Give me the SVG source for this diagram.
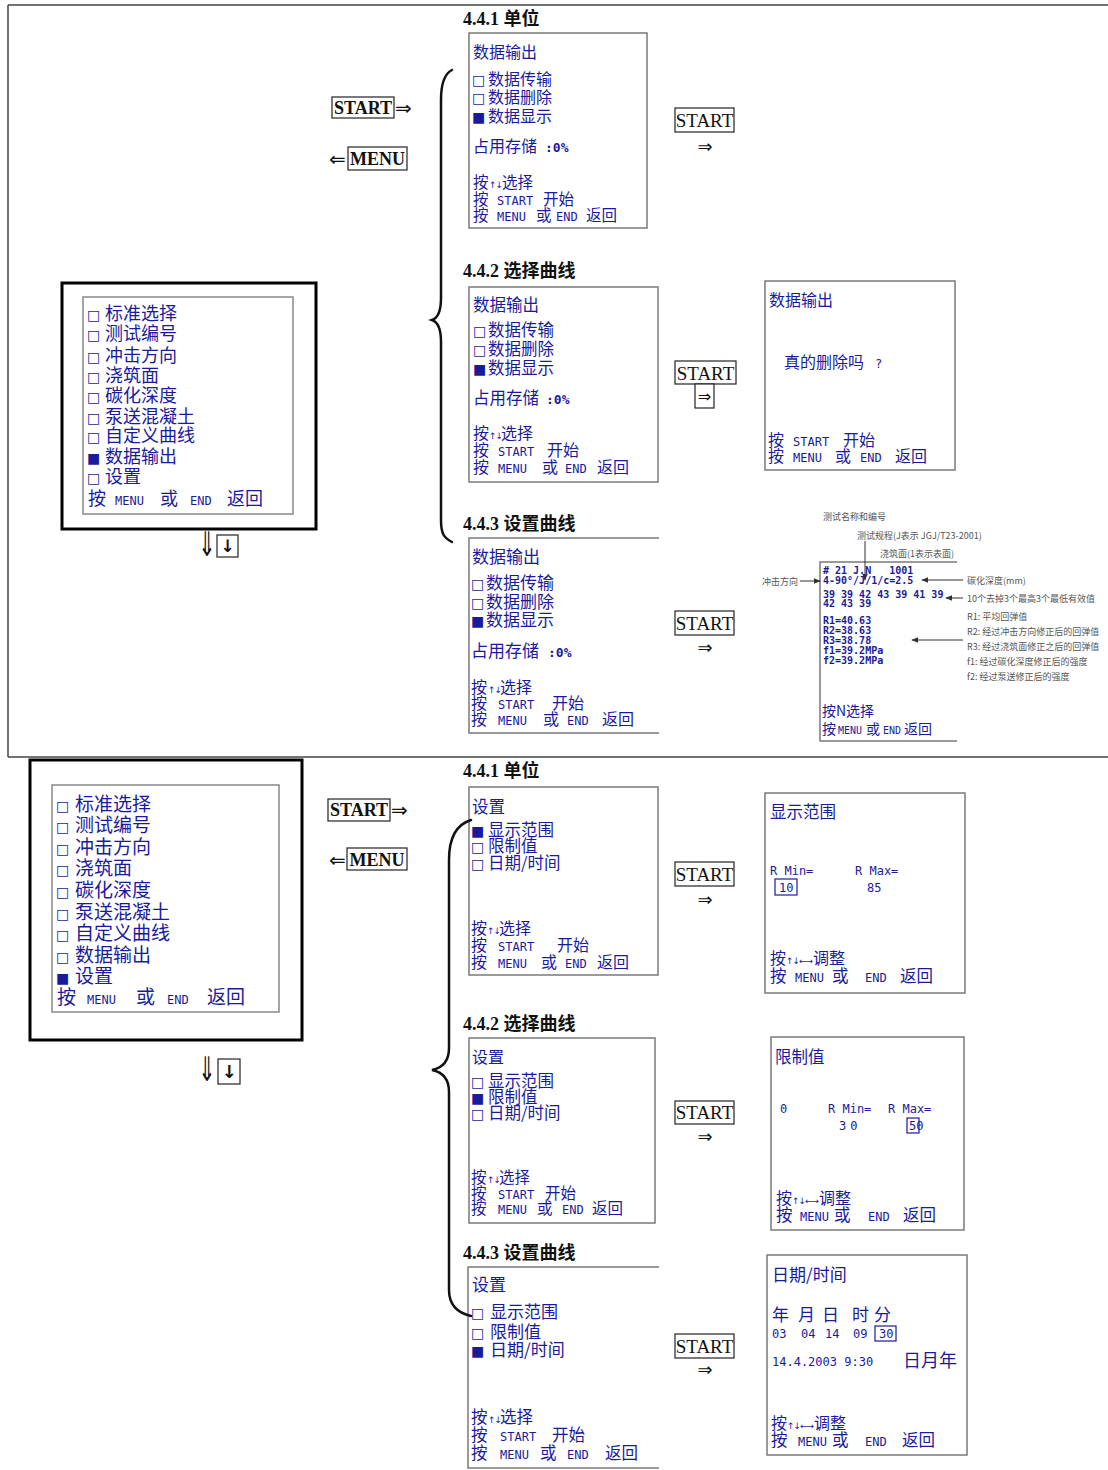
<svg xmlns="http://www.w3.org/2000/svg" width="1108" height="1470" viewBox="0 0 1108 1470">
<style>
.cn{font-family:"Noto Sans CJK SC",sans-serif;fill:#1a1a9c}
.sm{font-family:"DejaVu Sans Mono",monospace;font-size:12px}
.pc{font-family:"DejaVu Sans Mono",monospace;font-size:13px;font-weight:bold}
.sq{font-family:"DejaVu Sans",sans-serif;font-size:14px}
.ar{font-family:"DejaVu Sans",sans-serif;font-size:9px;letter-spacing:-1px}
.hd{font-family:"Liberation Serif","Noto Sans CJK SC",serif;font-weight:bold;font-size:18px;fill:#111}
.key{font-family:"Liberation Serif",serif;font-size:19px;fill:#111}
.kb{font-weight:bold;font-size:18px}
.scr{fill:#fff;stroke:#7a7a7a;stroke-width:1.5}
.opn{fill:none;stroke:#7a7a7a;stroke-width:1.5}
.kbox{fill:#fff;stroke:#222;stroke-width:1.2}
.dbl{font-family:"DejaVu Sans",sans-serif;fill:#111}
.br{fill:none;stroke:#111;stroke-width:2.5;stroke-linecap:round}
.ln{fill:none;stroke:#333;stroke-width:1}
.note{font-family:"Noto Sans CJK SC",sans-serif;font-size:9px;fill:#555}
.lcd{font-family:"DejaVu Sans Mono",monospace;font-size:10px;font-weight:bold;fill:#1a1a9c}
.outer{fill:#fff;stroke:#000;stroke-width:3}
.inner{fill:#fff;stroke:#888;stroke-width:1.5}
</style>
<defs>
<marker id="ah" viewBox="0 0 10 10" refX="9" refY="5" markerWidth="7" markerHeight="7" orient="auto-start-reverse">
<path d="M0,1 L10,5 L0,9 Z" fill="#333"/>
</marker>
</defs>
<rect x="0" y="0" width="1108" height="1470" fill="#fff"/>

<g id="frame">
<path d="M8,5 H1108 M8,5 V757 M8,757 H1108" fill="none" stroke="#444" stroke-width="1.5"/>
</g>

<!-- ============ TOP SECTION ============ -->
<g id="menu-top">
<rect class="outer" x="62" y="283" width="254" height="246"/>
<rect class="inner" x="83" y="297" width="210" height="217"/>
<text class="cn" font-size="18" y="320"><tspan class="sq" x="87">□</tspan><tspan x="105">标准选择</tspan></text>
<text class="cn" font-size="18" y="340"><tspan class="sq" x="87">□</tspan><tspan x="105">测试编号</tspan></text>
<text class="cn" font-size="18" y="362"><tspan class="sq" x="87">□</tspan><tspan x="105">冲击方向</tspan></text>
<text class="cn" font-size="18" y="382"><tspan class="sq" x="87">□</tspan><tspan x="105">浇筑面</tspan></text>
<text class="cn" font-size="18" y="402"><tspan class="sq" x="87">□</tspan><tspan x="105">碳化深度</tspan></text>
<text class="cn" font-size="18" y="423"><tspan class="sq" x="87">□</tspan><tspan x="105">泵送混凝土</tspan></text>
<text class="cn" font-size="18" y="442"><tspan class="sq" x="87">□</tspan><tspan x="105">自定义曲线</tspan></text>
<text class="cn" font-size="18" y="463"><tspan class="sq" x="87">■</tspan><tspan x="105">数据输出</tspan></text>
<text class="cn" font-size="18" y="483"><tspan class="sq" x="87">□</tspan><tspan x="105">设置</tspan></text>
<text class="cn" font-size="18" y="505"><tspan x="88">按</tspan><tspan class="sm" x="115">MENU</tspan><tspan x="160">或</tspan><tspan class="sm" x="190">END</tspan><tspan x="227">返回</tspan></text>
<text class="dbl" font-size="34" text-anchor="middle" transform="translate(207,556) scale(0.6,1)">⇓</text>
<rect class="kbox" x="217" y="535" width="21" height="22"/>
<text class="dbl" font-size="17" font-weight="bold" x="227.5" y="552" text-anchor="middle">↓</text>
</g>

<g id="key-start-menu-top">
<rect class="kbox" x="332" y="97" width="62" height="21"/>
<text class="key kb" x="363" y="114" text-anchor="middle">START</text>
<text class="dbl" font-size="20" x="395" y="115">⇒</text>
<text class="dbl" font-size="20" x="329" y="166">⇐</text>
<rect class="kbox" x="348" y="147" width="59" height="23"/>
<text class="key kb" x="377.5" y="165" text-anchor="middle">MENU</text>
</g>

<g id="s1-transfer">
<text class="hd" x="463" y="25">4.4.1 单位</text>
<rect class="scr" x="469" y="33" width="178" height="195"/>
<text class="cn" font-size="16" x="473" y="58">数据输出</text>
<text class="cn" font-size="16" y="85"><tspan class="sq" x="472">□</tspan><tspan x="488">数据传输</tspan></text>
<text class="cn" font-size="16" y="103"><tspan class="sq" x="472">□</tspan><tspan x="488">数据删除</tspan></text>
<text class="cn" font-size="16" y="122"><tspan class="sq" x="472">■</tspan><tspan x="488">数据显示</tspan></text>
<text class="cn" font-size="16" y="152"><tspan x="473">占用存储</tspan><tspan class="pc" x="545">:0%</tspan></text>
<text class="cn" font-size="15.5" y="188"><tspan x="473">按</tspan><tspan class="ar" x="489">↑↓</tspan><tspan x="502">选择</tspan></text>
<text class="cn" font-size="15.5" y="205"><tspan x="473">按</tspan><tspan class="sm" x="497">START</tspan><tspan x="543">开始</tspan></text>
<text class="cn" font-size="15.5" y="221"><tspan x="473">按</tspan><tspan class="sm" x="497">MENU</tspan><tspan x="536">或</tspan><tspan class="sm" x="556">END</tspan><tspan x="586">返回</tspan></text>
</g>
<g id="k1">
<rect class="kbox" x="675" y="108" width="59" height="24"/>
<text class="key" x="704.5" y="127" text-anchor="middle">START</text>
</g>

<g id="s2-delete">
<text class="hd" x="463" y="277">4.4.2 选择曲线</text>
<rect class="scr" x="469" y="287" width="189" height="195"/>
<text class="cn" font-size="16.5" x="473" y="311">数据输出</text>
<text class="cn" font-size="16.5" y="336"><tspan class="sq" x="473">□</tspan><tspan x="488">数据传输</tspan></text>
<text class="cn" font-size="16.5" y="355"><tspan class="sq" x="473">□</tspan><tspan x="488">数据删除</tspan></text>
<text class="cn" font-size="16.5" y="374"><tspan class="sq" x="473">■</tspan><tspan x="488">数据显示</tspan></text>
<text class="cn" font-size="16.5" y="404"><tspan x="473">占用存储</tspan><tspan class="pc" x="546">:0%</tspan></text>
<text class="cn" font-size="16" y="439"><tspan x="473">按</tspan><tspan class="ar" x="489">↑↓</tspan><tspan x="501">选择</tspan></text>
<text class="cn" font-size="16" y="456"><tspan x="473">按</tspan><tspan class="sm" x="498">START</tspan><tspan x="547">开始</tspan></text>
<text class="cn" font-size="16" y="473"><tspan x="473">按</tspan><tspan class="sm" x="498">MENU</tspan><tspan x="542">或</tspan><tspan class="sm" x="565">END</tspan><tspan x="597">返回</tspan></text>
</g>
<g id="k2">
<rect class="kbox" x="675" y="361" width="61" height="23"/>
<text class="key" x="705.5" y="380" text-anchor="middle">START</text>
<rect class="kbox" x="695" y="384" width="19" height="24"/>
</g>
<g id="s2-confirm">
<rect class="scr" x="765" y="281" width="190" height="189"/>
<text class="cn" font-size="16" x="769" y="306">数据输出</text>
<text class="cn" font-size="16" y="368"><tspan x="784">真的删除吗</tspan><tspan class="sm" x="875">?</tspan></text>
<text class="cn" font-size="16" y="446"><tspan x="768">按</tspan><tspan class="sm" x="793">START</tspan><tspan x="843">开始</tspan></text>
<text class="cn" font-size="16" y="462"><tspan x="768">按</tspan><tspan class="sm" x="793">MENU</tspan><tspan x="835">或</tspan><tspan class="sm" x="860">END</tspan><tspan x="895">返回</tspan></text>
</g>

<g id="s3-display">
<text class="hd" x="463" y="530">4.4.3 设置曲线</text>
<rect x="469" y="538" width="190" height="195" fill="#fff"/>
<path class="opn" d="M659,538 H469 V733 H659"/>
<text class="cn" font-size="17" x="472" y="563">数据输出</text>
<text class="cn" font-size="17" y="589"><tspan class="sq" x="471">□</tspan><tspan x="486">数据传输</tspan></text>
<text class="cn" font-size="17" y="608"><tspan class="sq" x="471">□</tspan><tspan x="486">数据删除</tspan></text>
<text class="cn" font-size="17" y="626"><tspan class="sq" x="471">■</tspan><tspan x="486">数据显示</tspan></text>
<text class="cn" font-size="17" y="657"><tspan x="471">占用存储</tspan><tspan class="pc" x="548">:0%</tspan></text>
<text class="cn" font-size="16" y="693"><tspan x="471">按</tspan><tspan class="ar" x="488">↑↓</tspan><tspan x="500">选择</tspan></text>
<text class="cn" font-size="16" y="709"><tspan x="471">按</tspan><tspan class="sm" x="498">START</tspan><tspan x="552">开始</tspan></text>
<text class="cn" font-size="16" y="725"><tspan x="471">按</tspan><tspan class="sm" x="498">MENU</tspan><tspan x="543">或</tspan><tspan class="sm" x="567">END</tspan><tspan x="602">返回</tspan></text>
</g>
<g id="k3">
<rect class="kbox" x="675" y="611" width="59" height="24"/>
<text class="key" x="704.5" y="630" text-anchor="middle">START</text>
</g>

<g id="s3-detail">
<text class="note" x="823" y="520">测试名称和编号</text>
<text class="note" x="857" y="539">测试规程(J表示 JGJ/T23-2001)</text>
<text class="note" x="880" y="557">浇筑面(1表示表面)</text>
<rect x="820" y="562" width="137" height="179" fill="#fff"/>
<path class="opn" d="M957,562 H820 V741 H957"/>
<text class="lcd" x="823" y="574" xml:space="preserve"># 21 J.N   1001</text>
<text class="lcd" x="823" y="584">4-90°/J/1/c=2.5</text>
<text class="lcd" x="823" y="598">39 39 42 43 39 41 39</text>
<text class="lcd" x="823" y="607">42 43 39</text>
<text class="lcd" x="823" y="624">R1=40.63</text>
<text class="lcd" x="823" y="634">R2=38.63</text>
<text class="lcd" x="823" y="644">R3=38.78</text>
<text class="lcd" x="823" y="654">f1=39.2MPa</text>
<text class="lcd" x="823" y="664">f2=39.2MPa</text>
<text class="cn" font-size="14" x="822" y="716">按N选择</text>
<text class="cn" font-size="14" y="734"><tspan x="822">按</tspan><tspan class="sm" style="font-size:10px" x="838">MENU</tspan><tspan x="866">或</tspan><tspan class="sm" style="font-size:10px" x="883">END</tspan><tspan x="904">返回</tspan></text>
<text class="note" x="762" y="585">冲击方向</text>
<text class="note" x="967" y="584">碳化深度(mm)</text>
<text class="note" x="967" y="602">10个去掉3个最高3个最低有效值</text>
<text class="note" x="967" y="620">R1: 平均回弹值</text>
<text class="note" x="967" y="635">R2: 经过冲击方向修正后的回弹值</text>
<text class="note" x="967" y="650">R3: 经过浇筑面修正之后的回弹值</text>
<text class="note" x="967" y="665">f1: 经过碳化深度修正后的强度</text>
<text class="note" x="967" y="680">f2: 经过泵送修正后的强度</text>
</g>

<!-- ============ BOTTOM SECTION ============ -->
<g id="menu-bottom">
<rect class="outer" x="30" y="760" width="272" height="280"/>
<rect class="inner" x="52" y="785" width="227" height="227"/>
<text class="cn" font-size="19" y="811"><tspan class="sq" x="56">□</tspan><tspan x="75">标准选择</tspan></text>
<text class="cn" font-size="19" y="832"><tspan class="sq" x="56">□</tspan><tspan x="75">测试编号</tspan></text>
<text class="cn" font-size="19" y="854"><tspan class="sq" x="56">□</tspan><tspan x="75">冲击方向</tspan></text>
<text class="cn" font-size="19" y="875"><tspan class="sq" x="56">□</tspan><tspan x="75">浇筑面</tspan></text>
<text class="cn" font-size="19" y="897"><tspan class="sq" x="56">□</tspan><tspan x="75">碳化深度</tspan></text>
<text class="cn" font-size="19" y="919"><tspan class="sq" x="56">□</tspan><tspan x="75">泵送混凝土</tspan></text>
<text class="cn" font-size="19" y="940"><tspan class="sq" x="56">□</tspan><tspan x="75">自定义曲线</tspan></text>
<text class="cn" font-size="19" y="962"><tspan class="sq" x="56">□</tspan><tspan x="75">数据输出</tspan></text>
<text class="cn" font-size="19" y="983"><tspan class="sq" x="56">■</tspan><tspan x="75">设置</tspan></text>
<text class="cn" font-size="19" y="1004"><tspan x="57">按</tspan><tspan class="sm" x="87">MENU</tspan><tspan x="136">或</tspan><tspan class="sm" x="167">END</tspan><tspan x="207">返回</tspan></text>
<text class="dbl" font-size="34" text-anchor="middle" transform="translate(207,1081) scale(0.6,1)">⇓</text>
<rect class="kbox" x="218" y="1059" width="22" height="25"/>
<text class="dbl" font-size="18" font-weight="bold" x="229" y="1078" text-anchor="middle">↓</text>
</g>

<g id="key-start-menu-bottom">
<rect class="kbox" x="328" y="799" width="62" height="22"/>
<text class="key kb" x="359" y="816" text-anchor="middle">START</text>
<text class="dbl" font-size="20" x="391" y="817">⇒</text>
<text class="dbl" font-size="20" x="329" y="867">⇐</text>
<rect class="kbox" x="347" y="848" width="60" height="22"/>
<text class="key kb" x="377" y="866" text-anchor="middle">MENU</text>
</g>

<g id="s4-range">
<text class="hd" x="463" y="777">4.4.1 单位</text>
<rect class="scr" x="469" y="787" width="189" height="188"/>
<text class="cn" font-size="16.5" x="472" y="813">设置</text>
<text class="cn" font-size="16.5" y="836"><tspan class="sq" x="471">■</tspan><tspan x="488">显示范围</tspan></text>
<text class="cn" font-size="16.5" y="852"><tspan class="sq" x="471">□</tspan><tspan x="488">限制值</tspan></text>
<text class="cn" font-size="16.5" y="869"><tspan class="sq" x="471">□</tspan><tspan x="488">日期/时间</tspan></text>
<text class="cn" font-size="16" y="934"><tspan x="471">按</tspan><tspan class="ar" x="487">↑↓</tspan><tspan x="499">选择</tspan></text>
<text class="cn" font-size="16" y="951"><tspan x="471">按</tspan><tspan class="sm" x="498">START</tspan><tspan x="557">开始</tspan></text>
<text class="cn" font-size="16" y="968"><tspan x="471">按</tspan><tspan class="sm" x="498">MENU</tspan><tspan x="541">或</tspan><tspan class="sm" x="565">END</tspan><tspan x="597">返回</tspan></text>
</g>
<g id="k4">
<rect class="kbox" x="675" y="862" width="59" height="24"/>
<text class="key" x="704.5" y="881" text-anchor="middle">START</text>
</g>
<g id="s4-range-edit">
<rect class="scr" x="765" y="793" width="200" height="200"/>
<text class="cn" font-size="16.5" x="770" y="818">显示范围</text>
<text class="cn sm" x="770" y="875" xml:space="preserve">R Min=</text>
<text class="cn sm" x="855" y="875" xml:space="preserve">R Max=</text>
<rect x="775" y="879" width="22" height="16" fill="none" stroke="#1a1a9c" stroke-width="1.2"/>
<text class="cn sm" x="779" y="892">10</text>
<text class="cn sm" x="867" y="892">85</text>
<text class="cn" font-size="16" y="964"><tspan x="770">按</tspan><tspan class="ar" x="786">↑↓←→</tspan><tspan x="813">调整</tspan></text>
<text class="cn" font-size="16.5" y="982"><tspan x="770">按</tspan><tspan class="sm" x="795">MENU</tspan><tspan x="832">或</tspan><tspan class="sm" x="865">END</tspan><tspan x="900">返回</tspan></text>
</g>

<g id="s5-limit">
<text class="hd" x="463" y="1030">4.4.2 选择曲线</text>
<rect class="scr" x="469" y="1038" width="186" height="185"/>
<text class="cn" font-size="16" x="472" y="1063">设置</text>
<text class="cn" font-size="16.5" y="1087"><tspan class="sq" x="471">□</tspan><tspan x="488">显示范围</tspan></text>
<text class="cn" font-size="16.5" y="1103"><tspan class="sq" x="471">■</tspan><tspan x="488">限制值</tspan></text>
<text class="cn" font-size="16.5" y="1119"><tspan class="sq" x="471">□</tspan><tspan x="488">日期/时间</tspan></text>
<text class="cn" font-size="15.5" y="1183"><tspan x="471">按</tspan><tspan class="ar" x="487">↑↓</tspan><tspan x="499">选择</tspan></text>
<text class="cn" font-size="15.5" y="1199"><tspan x="471">按</tspan><tspan class="sm" x="498">START</tspan><tspan x="545">开始</tspan></text>
<text class="cn" font-size="15.5" y="1214"><tspan x="471">按</tspan><tspan class="sm" x="498">MENU</tspan><tspan x="537">或</tspan><tspan class="sm" x="562">END</tspan><tspan x="592">返回</tspan></text>
</g>
<g id="k5">
<rect class="kbox" x="675" y="1101" width="59" height="23"/>
<text class="key" x="704.5" y="1119" text-anchor="middle">START</text>
</g>
<g id="s5-limit-edit">
<rect class="scr" x="771" y="1037" width="193" height="193"/>
<text class="cn" font-size="16.5" x="775" y="1063">限制值</text>
<text class="cn sm" x="780" y="1113">0</text>
<text class="cn sm" x="828" y="1113" xml:space="preserve">R Min=</text>
<text class="cn sm" x="888" y="1113" xml:space="preserve">R Max=</text>
<text class="cn sm" x="839" y="1130" letter-spacing="4">30</text>
<rect x="907" y="1118" width="12" height="15" fill="none" stroke="#1a1a9c" stroke-width="1.2"/>
<text class="cn sm" x="909" y="1130">50</text>
<text class="cn" font-size="16" y="1204"><tspan x="776">按</tspan><tspan class="ar" x="792">↑↓←→</tspan><tspan x="819">调整</tspan></text>
<text class="cn" font-size="16.5" y="1221"><tspan x="776">按</tspan><tspan class="sm" x="800">MENU</tspan><tspan x="834">或</tspan><tspan class="sm" x="868">END</tspan><tspan x="903">返回</tspan></text>
</g>

<g id="s6-datetime">
<text class="hd" x="463" y="1259">4.4.3 设置曲线</text>
<rect x="468" y="1267" width="191" height="201" fill="#fff"/>
<path class="opn" d="M659,1267 H468 V1468 H659"/>
<text class="cn" font-size="17" x="472" y="1291">设置</text>
<text class="cn" font-size="17" y="1318"><tspan class="sq" x="471">□</tspan><tspan x="490">显示范围</tspan></text>
<text class="cn" font-size="17" y="1338"><tspan class="sq" x="471">□</tspan><tspan x="490">限制值</tspan></text>
<text class="cn" font-size="17" y="1356"><tspan class="sq" x="471">■</tspan><tspan x="490">日期/时间</tspan></text>
<text class="cn" font-size="16.5" y="1423"><tspan x="471">按</tspan><tspan class="ar" x="488">↑↓</tspan><tspan x="500">选择</tspan></text>
<text class="cn" font-size="16.5" y="1441"><tspan x="471">按</tspan><tspan class="sm" x="500">START</tspan><tspan x="552">开始</tspan></text>
<text class="cn" font-size="16.5" y="1459"><tspan x="471">按</tspan><tspan class="sm" x="500">MENU</tspan><tspan x="540">或</tspan><tspan class="sm" x="567">END</tspan><tspan x="605">返回</tspan></text>
</g>
<g id="k6">
<rect class="kbox" x="675" y="1334" width="59" height="24"/>
<text class="key" x="704.5" y="1353" text-anchor="middle">START</text>
</g>
<g id="s6-datetime-edit">
<rect class="scr" x="767" y="1255" width="200" height="200"/>
<text class="cn" font-size="17" x="772" y="1281">日期/时间</text>
<text class="cn" font-size="17" y="1321"><tspan x="772">年</tspan><tspan x="798">月</tspan><tspan x="822">日</tspan><tspan x="852">时</tspan><tspan x="874">分</tspan></text>
<text class="cn sm" y="1338"><tspan x="772">03</tspan><tspan x="801">04</tspan><tspan x="825">14</tspan><tspan x="853">09</tspan><tspan x="879">30</tspan></text>
<rect x="875" y="1326" width="21" height="15" fill="none" stroke="#1a1a9c" stroke-width="1.2"/>
<text class="cn sm" x="772" y="1366">14.4.2003 9:30</text>
<text class="cn" font-size="18" x="903" y="1367">日月年</text>
<text class="cn" font-size="16" y="1429"><tspan x="771">按</tspan><tspan class="ar" x="787">↑↓←→</tspan><tspan x="814">调整</tspan></text>
<text class="cn" font-size="16.5" y="1446"><tspan x="771">按</tspan><tspan class="sm" x="798">MENU</tspan><tspan x="832">或</tspan><tspan class="sm" x="865">END</tspan><tspan x="902">返回</tspan></text>
</g>

<g id="connectors">
<path class="br" d="M452,70 C444,74 441,84 441,100 L441,298 C441,312 438,318 432,320 C438,322 441,328 441,342 L441,520 C441,534 444,538 452,542"/>
<path class="br" d="M471,820 C458,824 449,836 449,860 L449,1048 C449,1062 442,1068 432,1070 C442,1072 449,1078 449,1092 L449,1290 C449,1305 458,1313 471,1316"/>
<text class="dbl" font-size="18" x="705" y="153" text-anchor="middle">⇒</text>
<text class="dbl" font-size="16" x="704.5" y="402" text-anchor="middle">⇒</text>
<text class="dbl" font-size="18" x="705" y="654" text-anchor="middle">⇒</text>
<text class="dbl" font-size="18" x="705" y="906" text-anchor="middle">⇒</text>
<text class="dbl" font-size="18" x="705" y="1143" text-anchor="middle">⇒</text>
<text class="dbl" font-size="18" x="705" y="1376" text-anchor="middle">⇒</text>
<path class="ln" d="M865,541 V580" marker-end="url(#ah)"/>
<path class="ln" d="M800,581 H820" marker-end="url(#ah)"/>
<path class="ln" d="M963,580 H922" marker-end="url(#ah)"/>
<path class="ln" d="M963,598 H946" marker-end="url(#ah)"/>
<path class="ln" d="M963,640 H912" marker-end="url(#ah)"/>
</g>
</svg>
